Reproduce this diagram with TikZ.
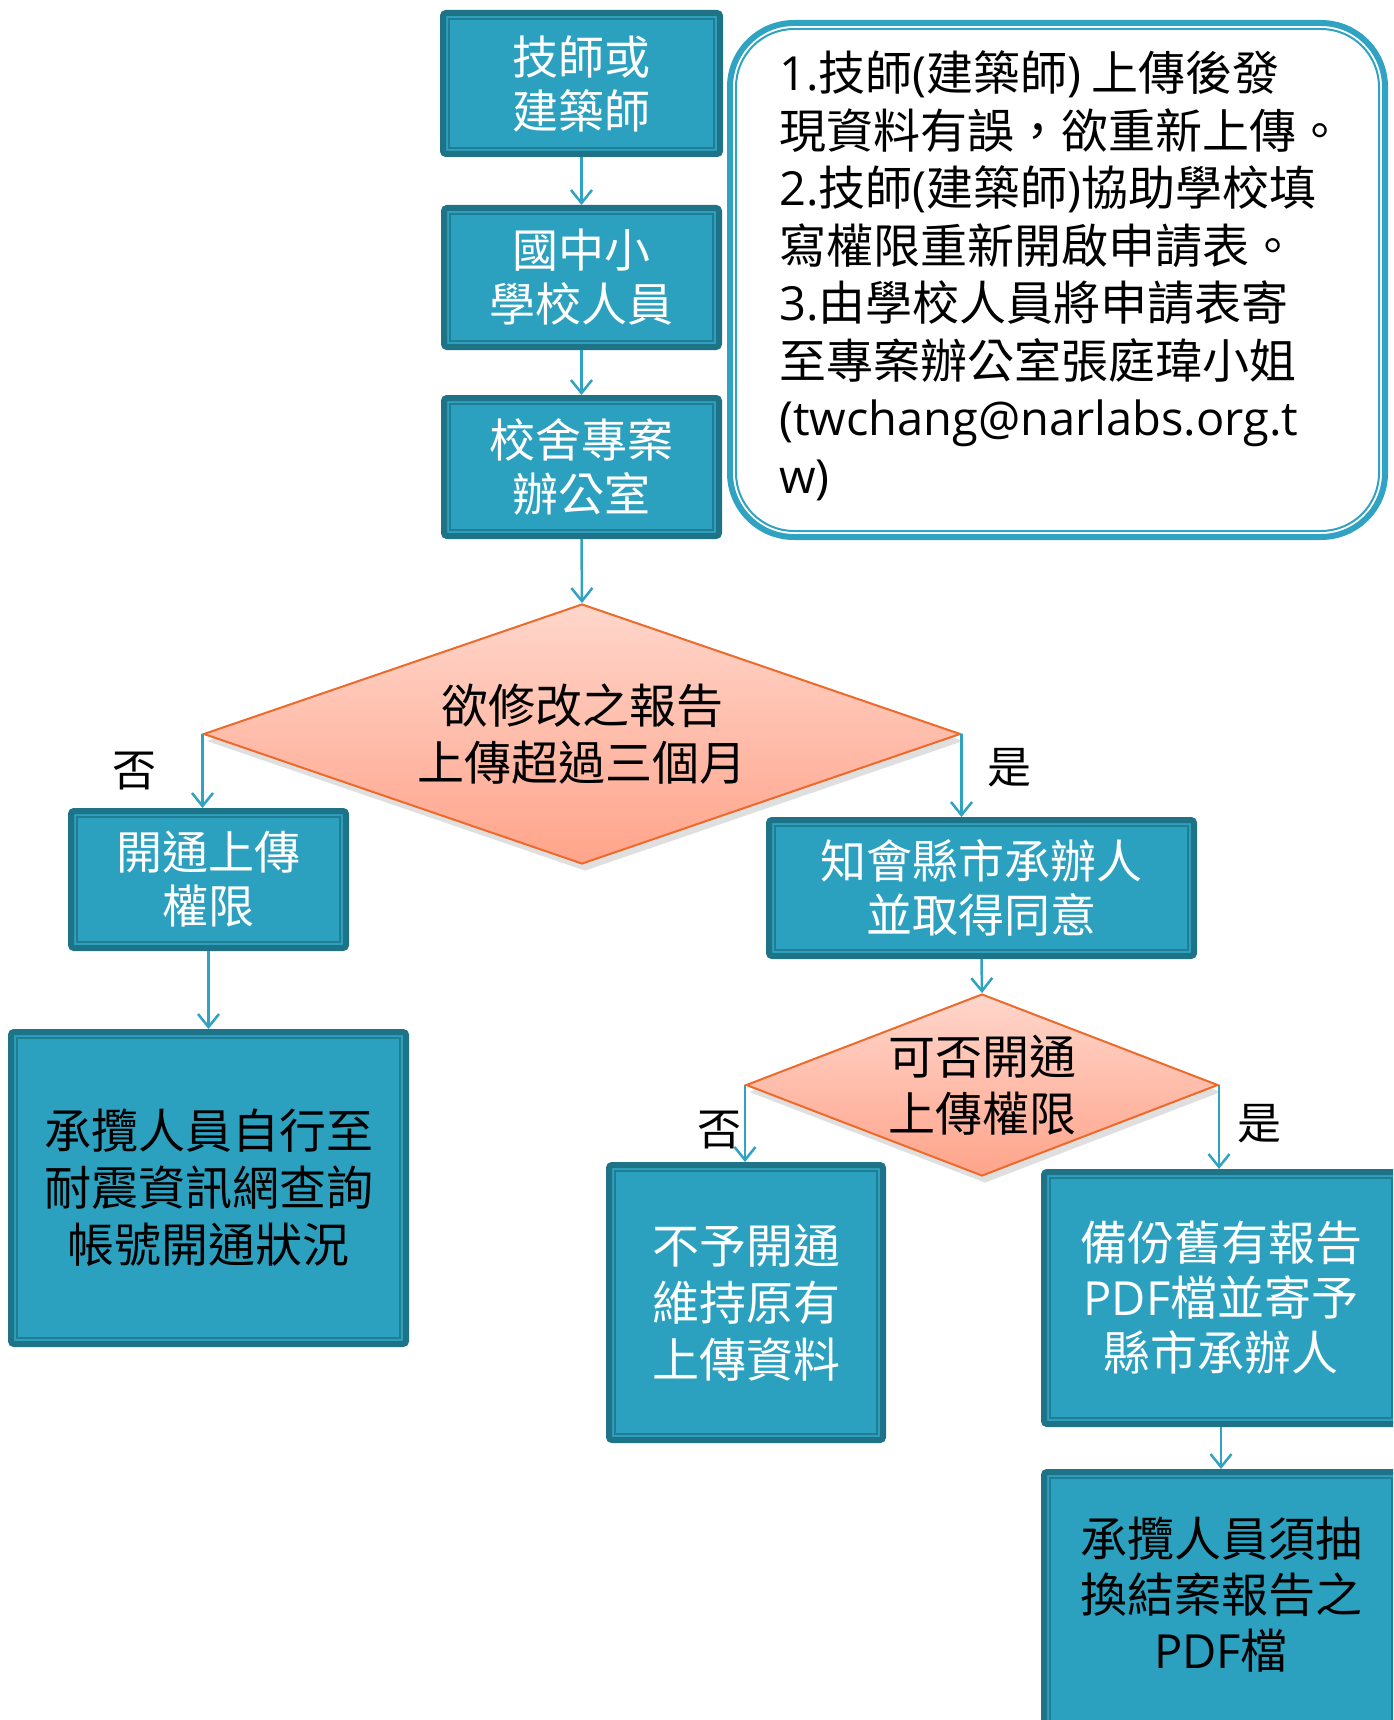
\documentclass[tikz,border=0pt]{standalone}
\usepackage{fontspec}
\setmainfont{Noto Sans CJK TC}
\newfontfamily\lat{Open Sans}
\usetikzlibrary{shapes.geometric,arrows.meta,shadows}
\definecolor{boxfill}{HTML}{2CA1BF}
\definecolor{boxdark}{HTML}{1E7387}
\definecolor{boxinner}{HTML}{217C94}
\definecolor{arrowc}{HTML}{2FA3C1}
\definecolor{notec}{HTML}{30A3C2}
\definecolor{diatop}{HTML}{FFD6CB}
\definecolor{diabot}{HTML}{FFA48B}
\definecolor{diaborder}{HTML}{EE6A2A}
\begin{document}
\begin{tikzpicture}[x=1pt,y=-1pt,
  flowbox/.style={draw=boxdark, line width=6pt, fill=boxfill, rounded corners=3pt,
    inner sep=0pt, align=center, font=\fontsize{46}{54}\selectfont,
    path picture={\draw[boxinner, line width=2pt, sharp corners]
      ([shift={(6pt,-6pt)}]path picture bounding box.north west) rectangle
      ([shift={(-6pt,6pt)}]path picture bounding box.south east);}},
  whitetext/.style={text=white},
  blacktext/.style={text=black},
  decision/.style={diamond, draw=diaborder, line width=2pt, top color=diatop, bottom color=diabot,
    inner sep=0pt, align=center, text=black, font=\fontsize{47}{57}\selectfont,
    drop shadow={opacity=0.25, shadow xshift=3pt, shadow yshift=-7pt}},
  notebox/.style={draw=notec, line width=6pt, fill=white, rounded corners=64pt, inner sep=0pt,
    path picture={\draw[notec, line width=2pt, rounded corners=58pt]
      ([shift={(6pt,-6pt)}]path picture bounding box.north west) rectangle
      ([shift={(-6pt,6pt)}]path picture bounding box.south east);}},
  notetext/.style={align=left, inner sep=0pt, text=black, font=\fontsize{47}{57.5}\selectfont},
  arr/.style={draw=arrowc, line width=2.5pt, -{Straight Barb[length=13pt,width=21pt]}},
  lbl/.style={inner sep=0pt, text=black, font=\fontsize{44}{50}\selectfont}
]
\useasboundingbox (0,0) rectangle (1393,1720);
\fill[white] (0,0) rectangle (1393,1720);
\clip (0,0) rectangle (1393,1720);

% top boxes
\node[flowbox, whitetext, minimum width=277pt, minimum height=141pt] (b1) at (581.5,83.5) {技師或\\建築師};
\node[flowbox, whitetext, minimum width=275pt, minimum height=139pt] (b2) at (581.5,277.5) {國中小\\學校人員};
\node[flowbox, whitetext, minimum width=275pt, minimum height=138pt] (b3) at (581.5,467) {校舍專案\\辦公室};

% note
\node[notebox, minimum width=655pt, minimum height=514pt] (note) at (1057.5,280) {};
\node[notetext, anchor=west] (notetxt) at (779,276) {%
{\lat 1.}技師{\lat (}建築師{\lat )} 上傳後發\\
現資料有誤，欲重新上傳。\\
{\lat 2.}技師{\lat (}建築師{\lat )}協助學校填\\
寫權限重新開啟申請表。\\
{\lat 3.}由學校人員將申請表寄\\
至專案辦公室張庭瑋小姐\\
{\lat (twchang@narlabs.org.t}\\
{\lat w)}};

% decision 1
\node[decision, aspect=2.91, minimum width=757pt, minimum height=260pt] (d1) at (582,734) {欲修改之報告\\上傳超過三個月};

\node[flowbox, whitetext, minimum width=275pt, minimum height=137pt] (b4) at (208.5,879.5) {開通上傳\\權限};
\node[flowbox, whitetext, minimum width=425pt, minimum height=136pt] (b5) at (981.5,888) {知會縣市承辦人\\並取得同意};

\node[flowbox, blacktext, font=\fontsize{47}{57}\selectfont, minimum width=395pt, minimum height=312pt] (b6) at (208.5,1188) {承攬人員自行至\\耐震資訊網查詢\\帳號開通狀況};

% decision 2
\node[decision, aspect=2.59, minimum width=472pt, minimum height=182pt] (d2) at (982,1085) {可否開通\\上傳權限};

\node[flowbox, whitetext, font=\fontsize{47}{57}\selectfont, minimum width=274pt, minimum height=275pt] (b7) at (746,1302.5) {不予開通\\維持原有\\上傳資料};
\node[flowbox, whitetext, font=\fontsize{47}{55}\selectfont, minimum width=354pt, minimum height=252pt] (b8) at (1221,1298) {備份舊有報告\\{\lat PDF}檔並寄予\\縣市承辦人};
\node[flowbox, minimum width=354pt, minimum height=266pt] (b9) at (1221,1605) {};
\node[blacktext, align=center, inner sep=0pt, font=\fontsize{47}{56}\selectfont] (b9txt) at (1221,1595) {承攬人員須抽\\換結案報告之\\{\lat PDF}檔};

% labels
\node[lbl] (no1) at (134,771) {否};
\node[lbl] (yes1) at (1009,768) {是};
\node[lbl] (no2) at (719,1130) {否};
\node[lbl] (yes2) at (1259,1124) {是};

% connectors
\draw[arr] (b1.south) -- (b2.north);
\draw[arr] (b2.south) -- (b3.north);
\draw[arr] (b3.south) -- (d1.north);
\draw[arr] (d1.west) -- (d1.west |- b4.north);
\draw[arr] (d1.east) -- (d1.east |- b5.north);
\draw[arr] (b4.south) -- (b6.north);
\draw[arr] (b5.south) -- (d2.north);
\draw[arr] (d2.west) -- (d2.west |- b7.north);
\draw[arr] (d2.east) -- (d2.east |- b8.north);
\draw[arr] (b8.south) -- (b9.north);
\end{tikzpicture}
\end{document}
